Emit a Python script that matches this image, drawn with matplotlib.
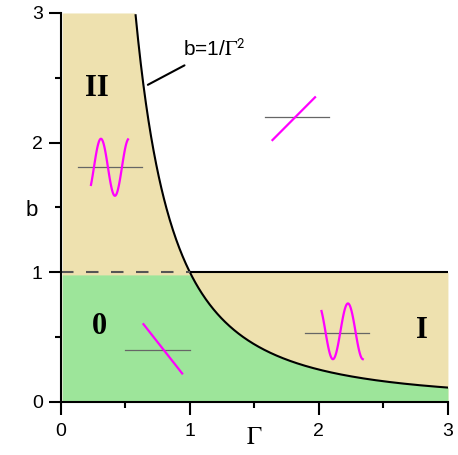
import numpy as np
import matplotlib.pyplot as plt

plt.rcParams["mathtext.fontset"] = "stix"

# axis ticks
x_ticks = [0, 1, 2, 3]
y_ticks = [0, 1, 2, 3]

# region labels (text, x, y)
region_names = ["II", "0", "I"]
region_x = [0.28, 0.30, 2.80]
region_y = [2.42, 0.58, 0.55]

# small sketches of motion in each region: baseline centre, half width
sketch_cx = [0.38, 0.75, 1.83, 2.14]
sketch_cy = [1.81, 0.40, 2.20, 0.53]
sketch_hw = [0.25, 0.25, 0.25, 0.25]

# boundary b = 1/Gamma^2
G = np.linspace(0.01, 3, 600)
b_curve = 1 / G**2

tan = "#EEE1AF"
green = "#9DE59A"
mag = "#FF00FF"

fig = plt.figure(figsize=(4.58, 4.55), dpi=100)
ax = fig.add_axes([0.133, 0.1165, 0.845, 0.855])

upper = np.minimum(3, np.maximum(1, b_curve))
ax.fill_between(G, 0, upper, color=tan, lw=0)
ax.fill_between(G, 0, np.minimum(0.98, b_curve), color=green, lw=0)
ax.fill_between([0, 0.01], 0, [0.98, 0.98], color=green, lw=0)
ax.fill_between([0, 0.01], 0.98, [3, 3], color=tan, lw=0)

m = b_curve <= 3
ax.plot(G[m], b_curve[m], color="black", lw=1.5)
ax.plot([1, 3], [1, 1], color="black", lw=1.5)
ax.plot([0, 1], [1, 1], color="#555555", lw=1.5, dashes=(6, 6))

# sketches: grey baseline + magenta trajectory
for cx, cy, hw in zip(sketch_cx, sketch_cy, sketch_hw):
    ax.plot([cx - hw, cx + hw], [cy, cy], color="#666666", lw=0.9)

t = np.linspace(0, 1, 100)
# region II
xs = 0.233 + t * 0.287
ax.plot(xs, 1.81 + 0.22 * np.sin(2 * np.pi * (xs - 0.256) / 0.217), color=mag, lw=1.6)
# region I
xs = 2.02 + t * 0.32
ax.plot(xs, 0.545 + 0.215 * np.cos(2 * np.pi * (xs - 2.225) / 0.233), color=mag, lw=1.6)
# stable (0) and upper right
ax.plot([0.64, 0.94], [0.60, 0.22], color=mag, lw=1.6)
ax.plot([1.64, 1.97], [2.02, 2.35], color=mag, lw=1.6)

for s, x, y in zip(region_names, region_x, region_y):
    ax.text(x, y, s, fontsize=22, fontweight="bold", family="Liberation Serif",
            ha="center", va="center")

ax.annotate(r"b=1/$\Gamma^{\mathsf{2}}$", xy=(0.674, 2.446), xytext=(0.95, 2.72),
            fontsize=15, family="Liberation Sans", va="center",
            arrowprops=dict(arrowstyle="-", color="black", lw=1.5,
                            shrinkA=4, shrinkB=0))

ax.set_xlim(0, 3)
ax.set_ylim(0, 3)
ax.set_xticks(x_ticks)
ax.set_yticks(y_ticks)
ax.set_xticks([0.5, 1.5, 2.5], minor=True)
ax.set_yticks([0.5, 1.5, 2.5], minor=True)
ax.tick_params(which="major", length=9, width=1.5, labelsize=14)
ax.tick_params(which="minor", length=4.5, width=1.5)
ax.tick_params(axis="x", pad=6)
ax.tick_params(axis="y", pad=4)
for lab in ax.get_xticklabels() + ax.get_yticklabels():
    lab.set_family("Liberation Sans")
for s in ["top", "right"]:
    ax.spines[s].set_visible(False)
for s in ["left", "bottom"]:
    ax.spines[s].set_linewidth(1.5)

# axis titles sit beside the tick labels
ax.text(1.5, -0.27, r"$\Gamma$", fontsize=18, ha="center", va="center", clip_on=False)
ax.text(-0.225, 1.48, "b", fontsize=16, family="Liberation Sans",
        ha="center", va="center", clip_on=False)

fig.savefig("out.png")
